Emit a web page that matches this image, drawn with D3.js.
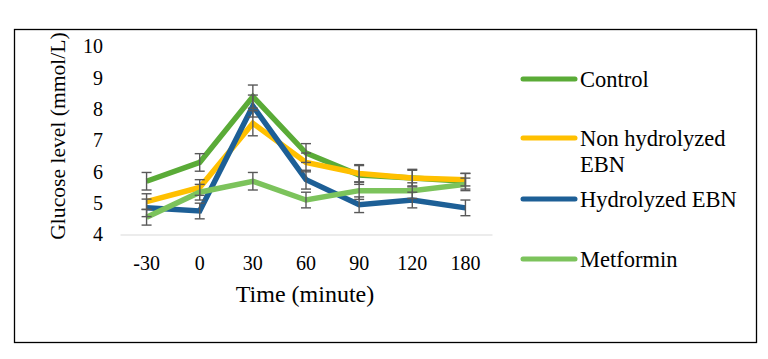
<!DOCTYPE html>
<html>
<head>
<meta charset="utf-8">
<script src="https://cdn.jsdelivr.net/npm/d3@7"></script>
</head>
<body style="margin:0; background:#fff">
<div id="chart"></div>
<script>
var svgWidth = 768;
var svgHeight = 359;
var FONT = "'Liberation Serif'";

// data
var times = ['-30', '0', '30', '60', '90', '120', '180'];
var yTicks = [4, 5, 6, 7, 8, 9, 10];
var seriesNames = ['Control', 'Non hydrolyzed EBN', 'Hydrolyzed EBN', 'Metformin'];
var control = [5.7, 6.3, 8.4, 6.6, 5.9, 5.8, 5.7];
var nonHydrolyzed = [5.05, 5.5, 7.55, 6.3, 5.95, 5.8, 5.75];
var hydrolyzed = [4.85, 4.75, 8.1, 5.75, 4.95, 5.1, 4.85];
var metformin = [4.55, 5.35, 5.7, 5.1, 5.4, 5.4, 5.6];
var controlErr = [0.28, 0.28, 0.37, 0.3, 0.3, 0.28, 0.25];
var nonHydrolyzedErr = [0.25, 0.25, 0.4, 0.3, 0.28, 0.25, 0.2];
var hydrolyzedErr = [0.28, 0.25, 0.35, 0.3, 0.25, 0.25, 0.25];
var metforminErr = [0.25, 0.25, 0.28, 0.25, 0.28, 0.25, 0.2];
var colors = ['#5aab37', '#ffc000', '#1d5f96', '#7cc35c'];

var series = [
    { name: seriesNames[0], values: control, err: controlErr, color: colors[0] },
    { name: seriesNames[1], values: nonHydrolyzed, err: nonHydrolyzedErr, color: colors[1] },
    { name: seriesNames[2], values: hydrolyzed, err: hydrolyzedErr, color: colors[2] },
    { name: seriesNames[3], values: metformin, err: metforminErr, color: colors[3] }
];

var svg = d3.select('#chart').append('svg')
    .attr('width', svgWidth)
    .attr('height', svgHeight)
    .style('font-family', FONT);

// outer frame
svg.append('rect')
    .attr('x', 14.5).attr('y', 29.5)
    .attr('width', 742).attr('height', 313)
    .attr('fill', 'none')
    .attr('stroke', '#000')
    .attr('stroke-width', 1.3);

var xScale = d3.scaleBand()
    .domain(times)
    .range([120, 492]);

var yScale = d3.scaleLinear()
    .domain([4, 10])
    .range([234.5, 46.5]);

// x axis (baseline only)
var xAxis = svg.append('g')
    .attr('transform', 'translate(0,234.5)')
    .call(d3.axisBottom(xScale).tickSize(0).tickPadding(21));
xAxis.select('.domain').attr('stroke', '#d9d9d9').attr('stroke-width', 1.2);
xAxis.selectAll('text')
    .style('font-family', FONT)
    .style('font-size', '20px')
    .attr('fill', '#000');

var yAxis = svg.append('g')
    .attr('transform', 'translate(103,0)')
    .call(d3.axisLeft(yScale).tickValues(yTicks).tickFormat(d3.format('d')).tickSize(0).tickPadding(0));
yAxis.select('.domain').remove();
yAxis.selectAll('text')
    .style('font-family', FONT)
    .style('font-size', '20px')
    .attr('fill', '#000');

// axis titles
svg.append('text')
    .attr('x', 305).attr('y', 302)
    .attr('text-anchor', 'middle')
    .style('font-family', FONT)
    .style('font-size', '24px')
    .text('Time (minute)');

svg.append('text')
    .attr('transform', 'translate(65,136) rotate(-90)')
    .attr('text-anchor', 'middle')
    .style('font-family', FONT)
    .style('font-size', '21.6px')
    .text('Glucose level (mmol/L)');

var line = d3.line()
    .x((d, i) => xScale(times[i]) + xScale.bandwidth() / 2)
    .y(d => yScale(d));

// lines
svg.selectAll('.series-line')
    .data(series)
    .enter()
    .append('path')
    .attr('class', 'series-line')
    .attr('d', d => line(d.values))
    .attr('fill', 'none')
    .attr('stroke', d => d.color)
    .attr('stroke-width', 5.5)
    .attr('stroke-linejoin', 'miter');

// error bars
var errGroup = svg.append('g')
    .attr('stroke', '#595959')
    .attr('stroke-width', 1.4)
    .attr('fill', 'none');

series.forEach(s => {
    s.values.forEach((v, i) => {
        var cx = xScale(times[i]) + xScale.bandwidth() / 2;
        var y1 = yScale(v + s.err[i]);
        var y0 = yScale(v - s.err[i]);
        errGroup.append('line').attr('x1', cx).attr('x2', cx).attr('y1', y1).attr('y2', y0);
        errGroup.append('line').attr('x1', cx - 5).attr('x2', cx + 5).attr('y1', y1).attr('y2', y1);
        errGroup.append('line').attr('x1', cx - 5).attr('x2', cx + 5).attr('y1', y0).attr('y2', y0);
    });
});

// legend
var legendY = [79, 138, 199, 259];
var legend = svg.selectAll('.legend')
    .data(series)
    .enter()
    .append('g')
    .attr('class', 'legend')
    .attr('transform', (d, i) => `translate(523,${legendY[i]})`);

legend.append('line')
    .attr('x1', 0).attr('x2', 52)
    .attr('y1', 0).attr('y2', 0)
    .attr('stroke', d => d.color)
    .attr('stroke-width', 5)
    .attr('stroke-linecap', 'round');

legend.append('text')
    .attr('x', 57)
    .attr('y', 7.8)
    .style('font-family', FONT)
    .style('font-size', '22.5px')
    .each(function(d) {
        var t = d3.select(this);
        if (d.name === 'Non hydrolyzed EBN') {
            t.append('tspan').attr('x', 57).text('Non hydrolyzed');
            t.append('tspan').attr('x', 57).attr('dy', 26.5).text('EBN');
        } else {
            t.text(d.name);
        }
    });
</script>
</body>
</html>
